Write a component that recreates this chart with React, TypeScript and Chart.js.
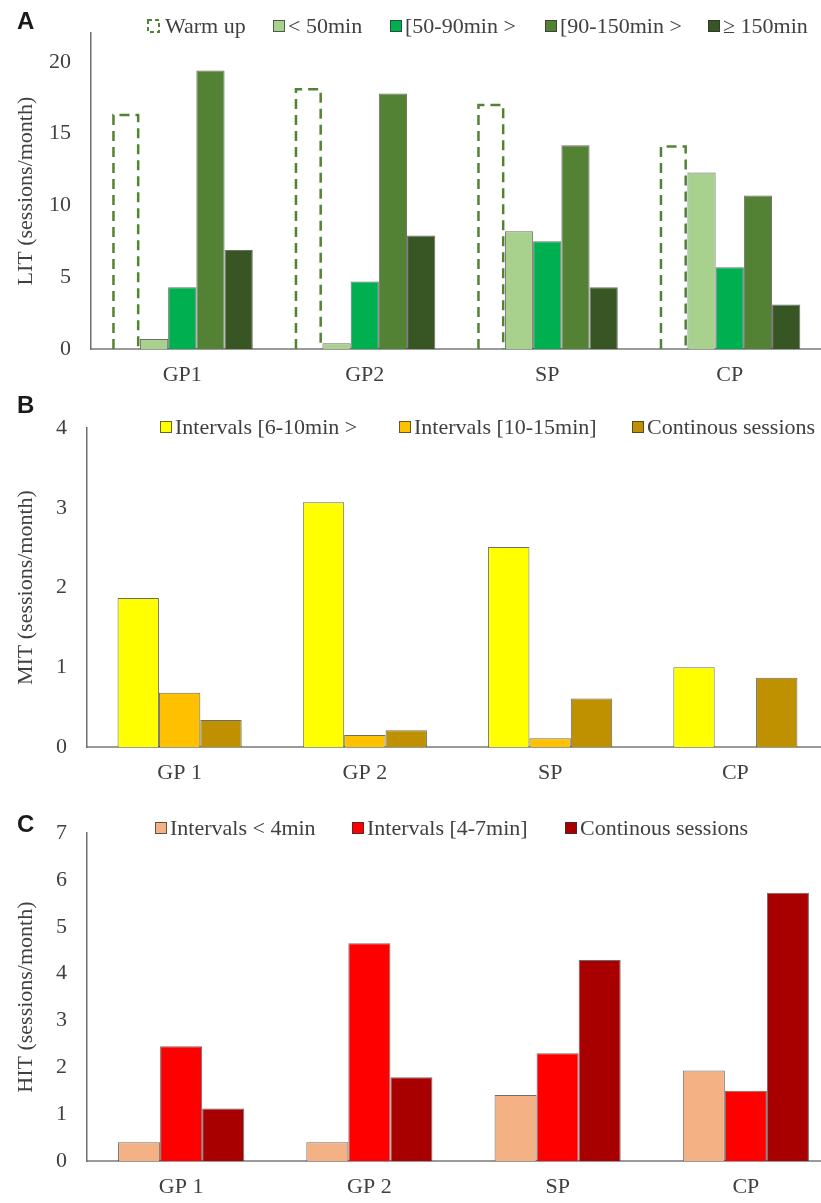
import React, { useEffect, useRef } from 'react';
import { Chart, registerables } from 'chart.js';

Chart.register(...registerables);

const SERIF = "'Liberation Serif', 'Times New Roman', serif";
const SANS = "'Liberation Sans', Arial, sans-serif";
const TEXT = '#404040';

// ---------- data ----------
const categoriesA = ['GP1', 'GP2', 'SP', 'CP'];
const categoriesBC = ['GP 1', 'GP 2', 'SP', 'CP'];

const litWarmUp = [16.3, 18.1, 17.0, 14.1];
const litUnder50 = [0.7, 0.4, 8.2, 12.3];
const lit50to90 = [4.3, 4.7, 7.5, 5.7];
const lit90to150 = [19.4, 17.8, 14.2, 10.7];
const litOver150 = [6.9, 7.9, 4.3, 3.1];

const mit6to10 = [1.87, 3.07, 2.51, 1.0];
const mit10to15 = [0.68, 0.15, 0.11, 0];
const mitContinuous = [0.34, 0.21, 0.61, 0.87];

const hitUnder4 = [0.4, 0.4, 1.41, 1.93];
const hit4to7 = [2.45, 4.65, 2.3, 1.5];
const hitContinuous = [1.12, 1.79, 4.29, 5.73];

const litTicks = [0, 5, 10, 15, 20];
const mitTicks = [0, 1, 2, 3, 4];
const hitTicks = [0, 1, 2, 3, 4, 5, 6, 7];

// ---------- plugins ----------
const dashedBars = {
  id: 'dashedBars',
  afterDatasetsDraw(chart: any) {
    const ctx = chart.ctx;
    chart.data.datasets.forEach((ds: any, i: number) => {
      if (!ds.dashedOutline) return;
      const meta = chart.getDatasetMeta(i);
      meta.data.forEach((el: any) => {
        const { x, y, base, width } = el.getProps(['x', 'y', 'base', 'width'], true);
        const lw = 2.5;
        const l = x - width / 2 + lw / 2 + 0.5;
        const r = x + width / 2 - lw / 2 - 0.5;
        ctx.save();
        ctx.strokeStyle = ds.dashColor;
        ctx.lineWidth = lw;
        ctx.setLineDash([10, 6]);
        ctx.beginPath();
        ctx.moveTo(l, base);
        ctx.lineTo(l, y);
        ctx.lineTo(r, y);
        ctx.lineTo(r, base);
        ctx.stroke();
        ctx.restore();
      });
    });
  },
};

const panelDecor = {
  id: 'panelDecor',
  afterDraw(chart: any, _args: any, opts: any) {
    const ctx = chart.ctx;
    ctx.save();
    ctx.font = `bold 24px ${SANS}`;
    ctx.fillStyle = '#1a1a1a';
    ctx.textBaseline = 'middle';
    ctx.textAlign = 'left';
    ctx.fillText(opts.letter, 17, opts.letterY);

    ctx.font = `22px ${SERIF}`;
    chart.data.datasets.forEach((ds: any, i: number) => {
      const x = opts.legendXs[i];
      const y = opts.legendY;
      let textX = x + 15;
      if (ds.dashedOutline) {
        ctx.save();
        ctx.strokeStyle = ds.dashColor;
        ctx.lineWidth = 2;
        ctx.setLineDash([4, 3]);
        ctx.strokeRect(x + 1, y - 6, 11, 12);
        ctx.restore();
        textX = x + 18;
      } else {
        ctx.fillStyle = ds.backgroundColor;
        ctx.fillRect(x, y - 6, 12, 12);
        ctx.strokeStyle = 'rgba(50,50,50,0.75)';
        ctx.lineWidth = 1;
        ctx.strokeRect(x + 0.5, y - 5.5, 11, 11);
      }
      ctx.fillStyle = TEXT;
      ctx.fillText(ds.label, textX, y + 1);
    });
    ctx.restore();
  },
};

const BAR_BORDER = 'rgba(45,45,45,0.7)';

function bar(label: string, data: number[], color: string) {
  return { label, data, backgroundColor: color, borderColor: BAR_BORDER, borderWidth: 1 };
}

function buildConfig(p: any) {
  return {
    type: 'bar',
    data: { labels: p.labels, datasets: p.datasets },
    options: {
      responsive: false,
      animation: false,
      events: [],
      layout: { padding: { top: p.padTop, left: 0, right: 0, bottom: 0 } },
      datasets: { bar: { categoryPercentage: p.catPct, barPercentage: 1 } },
      plugins: {
        legend: { display: false },
        tooltip: { enabled: false },
        panelDecor: { letter: p.letter, letterY: p.letterY, legendXs: p.legendXs, legendY: p.legendY },
      },
      scales: {
        x: {
          grid: { display: false, drawTicks: false },
          border: { display: true, color: '#9a9a9a', width: 2 },
          ticks: { font: { family: SERIF, size: 22 }, color: TEXT, padding: 13, maxRotation: 0, autoSkip: false },
          afterFit: (s: any) => { s.height = p.xHeight; },
        },
        y: {
          min: 0,
          max: p.max,
          grid: { display: false, drawTicks: false },
          border: { display: true, color: '#6e6e6e', width: 1.5 },
          ticks: { font: { family: SERIF, size: 22 }, color: TEXT, padding: 20 },
          afterBuildTicks: (s: any) => { s.ticks = p.ticks.map((v: number) => ({ value: v })); },
          afterFit: (s: any) => { s.width = p.axisLeft; },
          title: {
            display: true,
            text: p.yTitle,
            font: { family: SERIF, size: 22 },
            color: TEXT,
            padding: { top: 13, bottom: 0 },
          },
        },
      },
    },
    plugins: [dashedBars, panelDecor],
  };
}

const configA = buildConfig({
  labels: categoriesA,
  datasets: [
    { label: 'Warm up', data: litWarmUp, backgroundColor: 'rgba(0,0,0,0)', borderWidth: 0, dashedOutline: true, dashColor: '#548235' },
    bar('< 50min', litUnder50, '#a9d18e'),
    bar('[50-90min >', lit50to90, '#00b050'),
    bar('[90-150min >', lit90to150, '#548235'),
    bar('≥ 150min', litOver150, '#375623'),
  ],
  padTop: 13,
  catPct: 0.773,
  max: 22,
  ticks: litTicks,
  axisLeft: 91,
  xHeight: 395 - 349,
  yTitle: 'LIT (sessions/month)',
  letter: 'A',
  letterY: 22,
  legendXs: [147, 273, 390, 545, 708],
  legendY: 26,
});

const configB = buildConfig({
  labels: categoriesBC,
  datasets: [
    bar('Intervals [6-10min >', mit6to10, '#ffff00'),
    bar('Intervals [10-15min]', mit10to15, '#ffc000'),
    bar('Continous sessions', mitContinuous, '#bf9000'),
  ],
  padTop: 15,
  catPct: 0.67,
  max: 4,
  ticks: mitTicks,
  axisLeft: 87,
  xHeight: 787 - 747,
  yTitle: 'MIT (sessions/month)',
  letter: 'B',
  letterY: 11,
  legendXs: [160, 399, 632],
  legendY: 32,
});

const configC = buildConfig({
  labels: categoriesBC,
  datasets: [
    bar('Intervals < 4min', hitUnder4, '#f4b183'),
    bar('Intervals [4-7min]', hit4to7, '#ff0000'),
    bar('Continous sessions', hitContinuous, '#a80000'),
  ],
  padTop: 27,
  catPct: 0.67,
  max: 7,
  ticks: hitTicks,
  axisLeft: 87,
  xHeight: 1203 - 1161,
  yTitle: 'HIT (sessions/month)',
  letter: 'C',
  letterY: 25,
  legendXs: [155, 352, 565],
  legendY: 28,
});

function Panel({ top, width, height, config }: any) {
  const ref = useRef<HTMLCanvasElement | null>(null);
  useEffect(() => {
    const chart = new Chart(ref.current as HTMLCanvasElement, config);
    return () => chart.destroy();
  }, []);
  return (
    <canvas
      ref={ref}
      width={width}
      height={height}
      style={{ position: 'absolute', left: 0, top, width, height, display: 'block' }}
    />
  );
}

export default function App() {
  return (
    <div
      style={{
        position: 'absolute',
        left: 0,
        top: 0,
        width: 821,
        height: 1203,
        overflow: 'hidden',
        background: '#ffffff',
      }}
    >
      <Panel top={0} width={821} height={395} config={configA} />
      <Panel top={395} width={828} height={392} config={configB} />
      <Panel top={800} width={840} height={403} config={configC} />
    </div>
  );
}
